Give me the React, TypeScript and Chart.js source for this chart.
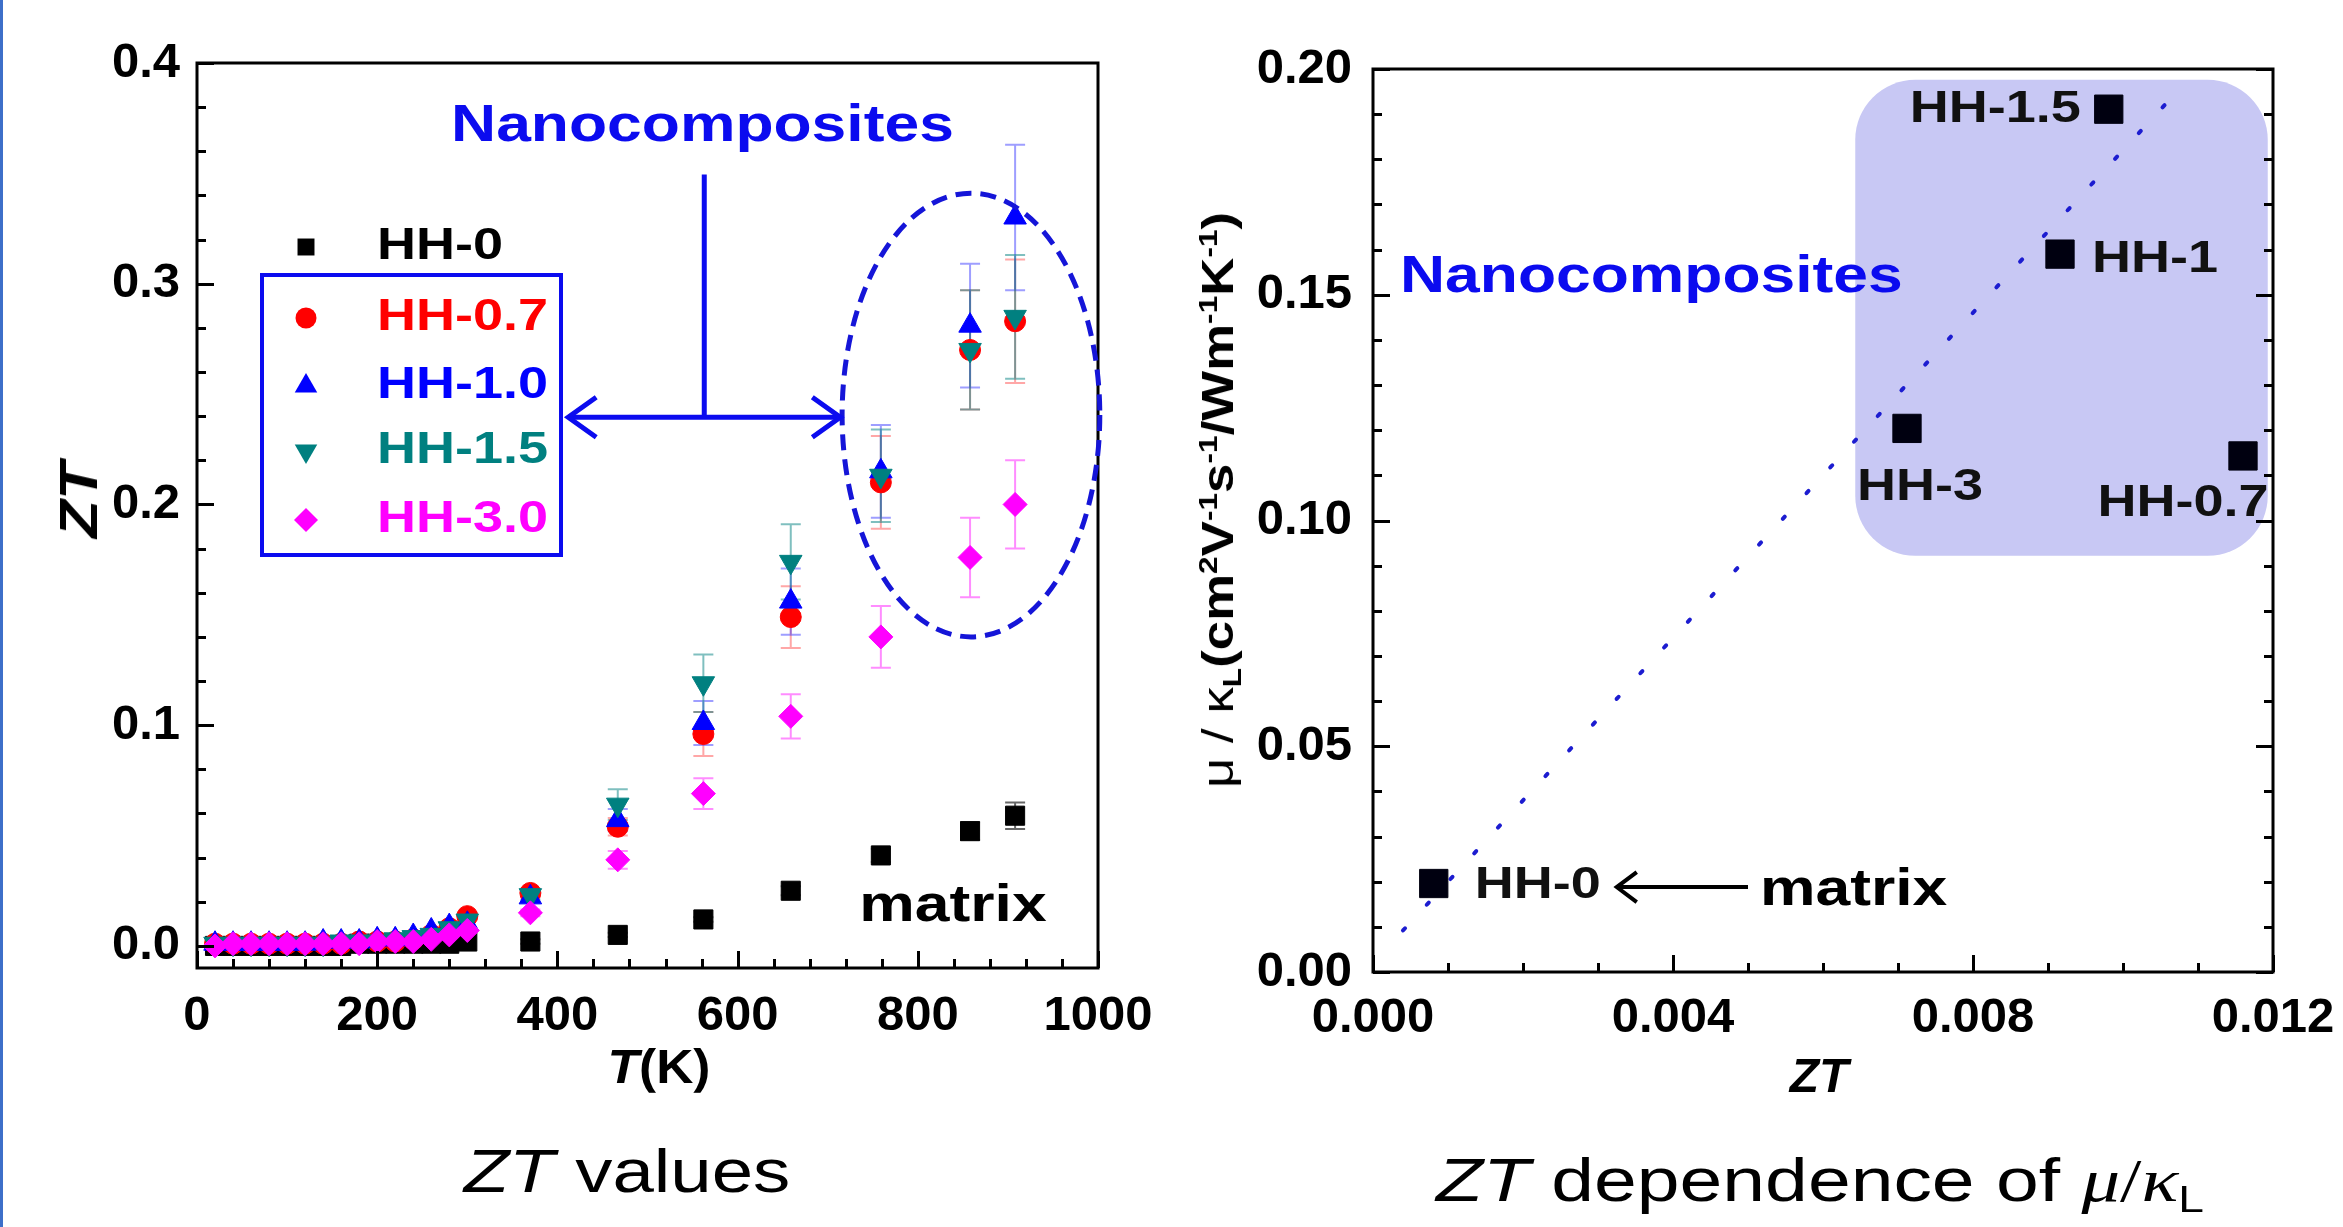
import React, { useEffect, useRef } from 'react';
import { Chart, registerables } from 'chart.js';

Chart.register(...registerables);

// ---------------- Left chart data: ZT vs T ----------------
const T_LOW = [20, 40, 60, 80, 100, 120, 140, 160, 180, 200, 220, 240, 260, 280, 300];
const T_HIGH = [370, 467, 562, 659, 759, 858, 908];

const HH0_LOW = [0.000, 0.000, 0.000, 0.000, 0.000, 0.000, 0.000, 0.000, 0.001, 0.001, 0.001, 0.001, 0.001, 0.001, 0.002];
const HH07_LOW = [0.001, 0.001, 0.001, 0.001, 0.001, 0.001, 0.001, 0.001, 0.002, 0.002, 0.002, 0.003, 0.005, 0.008, 0.0135];
const HH10_LOW = [0.001, 0.001, 0.001, 0.001, 0.001, 0.001, 0.002, 0.002, 0.002, 0.003, 0.003, 0.0045, 0.007, 0.009, 0.010];
const HH15_LOW = [0.001, 0.001, 0.001, 0.001, 0.001, 0.001, 0.001, 0.002, 0.002, 0.002, 0.003, 0.004, 0.005, 0.008, 0.0115];
const HH30_LOW = [0.000, 0.001, 0.001, 0.001, 0.001, 0.001, 0.001, 0.001, 0.001, 0.002, 0.002, 0.002, 0.003, 0.005, 0.007];

const HH0_HIGH = [0.002, 0.005, 0.012, 0.025, 0.041, 0.052, 0.059];
const HH07_HIGH = [0.024, 0.054, 0.096, 0.149, 0.210, 0.270, 0.283];
const HH10_HIGH = [0.022, 0.057, 0.101, 0.156, 0.215, 0.281, 0.330];
const HH15_HIGH = [0.023, 0.064, 0.119, 0.174, 0.213, 0.270, 0.285];
const HH30_HIGH = [0.015, 0.039, 0.069, 0.104, 0.140, 0.176, 0.200];

const HH0_ERR = [0.001, 0.001, 0.001, 0.002, 0.003, 0.004, 0.006];
const HH07_ERR = [0.002, 0.004, 0.010, 0.014, 0.021, 0.027, 0.028];
const HH10_ERR = [0.002, 0.005, 0.010, 0.015, 0.021, 0.028, 0.033];
const HH15_ERR = [0.002, 0.007, 0.013, 0.017, 0.021, 0.027, 0.028];
const HH30_ERR = [0.0015, 0.004, 0.007, 0.010, 0.014, 0.018, 0.020];

const LEFT_NAMES = ['HH-0', 'HH-0.7', 'HH-1.0', 'HH-1.5', 'HH-3.0'];
const LEFT_X_TICKS = [0, 200, 400, 600, 800, 1000];
const LEFT_Y_TICKS = [0, 0.1, 0.2, 0.3, 0.4];

// ---------------- Right chart data: mu/kL vs ZT ----------------
const SAMPLE_LABELS = ['HH-0', 'HH-0.7', 'HH-1', 'HH-1.5', 'HH-3'];
const SAMPLE_ZT = [0.00081, 0.0116, 0.00916, 0.00981, 0.00712];
const SAMPLE_MU_KL = [0.0196, 0.1143, 0.159, 0.1911, 0.1204];
const FIT_ZT = [0.0004, 0.01056];
const FIT_MU_KL = [0.0092, 0.1921];
const RIGHT_X_TICKS = [0, 0.004, 0.008, 0.012];
const RIGHT_Y_TICKS = [0, 0.05, 0.1, 0.15, 0.2];

// ---------------- styles ----------------
const FONT = '"Liberation Sans", Arial, Helvetica, sans-serif';
const TICK_FONT = { family: FONT, size: 49, weight: 'bold' as const };
const SX = 1.2; // horizontal stretch of annotation text
const BLUE = '#0b0bef';

const LEFT_STYLE = [
  { color: '#000000', err: 'rgba(0,0,0,0.6)', style: 'rect', radius: 13.5, rotation: 0, order: 5 },
  { color: '#ff0000', err: 'rgba(255,60,60,0.45)', style: 'circle', radius: 10.5, rotation: 0, order: 4 },
  { color: '#0000ff', err: 'rgba(40,40,255,0.45)', style: 'triangle', radius: 13, rotation: 0, order: 3 },
  { color: '#008080', err: 'rgba(0,128,128,0.5)', style: 'triangle', radius: 13, rotation: 180, order: 2 },
  { color: '#ff00ff', err: 'rgba(255,0,255,0.45)', style: 'rectRot', radius: 12, rotation: 0, order: 1 },
];
const LEFT_LOW = [HH0_LOW, HH07_LOW, HH10_LOW, HH15_LOW, HH30_LOW];
const LEFT_HIGH = [HH0_HIGH, HH07_HIGH, HH10_HIGH, HH15_HIGH, HH30_HIGH];
const LEFT_ERR = [HH0_ERR, HH07_ERR, HH10_ERR, HH15_ERR, HH30_ERR];

function stretchText(ctx: CanvasRenderingContext2D, text: string, x: number, y: number, align: string, font: string, color: string, sx = SX) {
  ctx.save();
  ctx.font = font;
  ctx.fillStyle = color;
  ctx.textBaseline = 'middle';
  ctx.textAlign = 'left';
  const w = ctx.measureText(text).width * sx;
  const x0 = align === 'left' ? x : align === 'center' ? x - w / 2 : x - w;
  ctx.translate(x0, y);
  ctx.scale(sx, 1);
  ctx.fillText(text, 0, 0);
  ctx.restore();
}

function drawMarker(ctx: CanvasRenderingContext2D, style: string, rotation: number, x: number, y: number, r: number, color: string) {
  ctx.save();
  ctx.fillStyle = color;
  ctx.beginPath();
  if (style === 'rect') {
    const s = r * Math.SQRT1_2;
    ctx.rect(x - s, y - s, 2 * s, 2 * s);
  } else if (style === 'circle') {
    ctx.arc(x, y, r, 0, Math.PI * 2);
  } else if (style === 'triangle') {
    const dir = rotation === 180 ? -1 : 1;
    ctx.moveTo(x, y - dir * r);
    ctx.lineTo(x + r * 0.866, y + dir * r * 0.5);
    ctx.lineTo(x - r * 0.866, y + dir * r * 0.5);
    ctx.closePath();
  } else {
    ctx.moveTo(x, y - r);
    ctx.lineTo(x + r, y);
    ctx.lineTo(x, y + r);
    ctx.lineTo(x - r, y);
    ctx.closePath();
  }
  ctx.fill();
  ctx.restore();
}

function tickMarks(ctx: CanvasRenderingContext2D, scale: any, values: number[], len: number, side: string, a: any) {
  ctx.beginPath();
  values.forEach((v) => {
    const p = Math.round(scale.getPixelForValue(v)) + 0.5;
    if (side === 'bottom') { ctx.moveTo(p, a.bottom); ctx.lineTo(p, a.bottom - len); }
    if (side === 'left') { ctx.moveTo(a.left, p); ctx.lineTo(a.left + len, p); }
    if (side === 'right') { ctx.moveTo(a.right, p); ctx.lineTo(a.right - len, p); }
  });
  ctx.stroke();
}

function range(from: number, to: number, step: number, skipEvery: number) {
  const out: number[] = [];
  let i = 0;
  for (let v = from; v <= to + step / 10; v += step, i++) {
    if (i % skipEvery !== 0) out.push(+v.toFixed(6));
  }
  return out;
}

function chevron(ctx: CanvasRenderingContext2D, tipX: number, tipY: number, dir: number, len: number, half: number) {
  ctx.beginPath();
  ctx.moveTo(tipX + dir * len, tipY - half);
  ctx.lineTo(tipX, tipY);
  ctx.lineTo(tipX + dir * len, tipY + half);
  ctx.stroke();
}

function LeftChart() {
  const ref = useRef<HTMLCanvasElement>(null);
  useEffect(() => {
    const canvas = ref.current!;
    const decor = {
      id: 'leftDecor',
      beforeDatasetsDraw(chart: any) {
        const { ctx, scales: { x, y } } = chart;
        ctx.save();
        ctx.lineWidth = 2;
        LEFT_STYLE.forEach((st, k) => {
          ctx.strokeStyle = st.err;
          T_HIGH.forEach((t, i) => {
            const px = x.getPixelForValue(t);
            const y1 = y.getPixelForValue(LEFT_HIGH[k][i] + LEFT_ERR[k][i]);
            const y2 = y.getPixelForValue(LEFT_HIGH[k][i] - LEFT_ERR[k][i]);
            ctx.beginPath();
            ctx.moveTo(px, y1); ctx.lineTo(px, y2);
            ctx.moveTo(px - 10, y1); ctx.lineTo(px + 10, y1);
            ctx.moveTo(px - 10, y2); ctx.lineTo(px + 10, y2);
            ctx.stroke();
          });
        });
        ctx.restore();
      },
      afterDraw(chart: any) {
        const { ctx, chartArea: a, scales: { x, y } } = chart;
        ctx.save();
        // frame
        ctx.strokeStyle = '#000';
        ctx.lineWidth = 3;
        ctx.strokeRect(a.left, a.top, a.right - a.left, a.bottom - a.top);
        // ticks
        ctx.lineWidth = 3;
        tickMarks(ctx, x, LEFT_X_TICKS, 17, 'bottom', a);
        tickMarks(ctx, x, range(0, 1000, 40, 5), 9, 'bottom', a);
        tickMarks(ctx, y, LEFT_Y_TICKS, 17, 'left', a);
        tickMarks(ctx, y, range(0, 0.4, 0.02, 5), 9, 'left', a);

        // dashed ellipse around high-T nanocomposite data
        const cx = x.getPixelForValue(859);
        const cy = y.getPixelForValue(0.2405);
        const rx = x.getPixelForValue(859 + 143) - cx;
        const ry = cy - y.getPixelForValue(0.2405 + 0.1005);
        ctx.strokeStyle = '#1515d8';
        ctx.lineWidth = 5;
        ctx.setLineDash([16, 9]);
        ctx.beginPath();
        ctx.ellipse(cx, cy, rx, ry, 0, 0, Math.PI * 2);
        ctx.stroke();
        ctx.setLineDash([]);

        // arrows
        ctx.strokeStyle = BLUE;
        ctx.lineWidth = 5;
        const vx = x.getPixelForValue(563);
        const vTop = y.getPixelForValue(0.3495);
        const hy = y.getPixelForValue(0.2395);
        const hx1 = x.getPixelForValue(412);
        const hx2 = x.getPixelForValue(714);
        ctx.beginPath();
        ctx.moveTo(vx, vTop); ctx.lineTo(vx, hy);
        ctx.moveTo(hx1, hy); ctx.lineTo(hx2, hy);
        ctx.stroke();
        chevron(ctx, hx1, hy, 1, 28, 20);
        chevron(ctx, hx2, hy, -1, 28, 20);

        // texts
        stretchText(ctx, 'Nanocomposites', x.getPixelForValue(561), y.getPixelForValue(0.371), 'center', `bold 52px ${FONT}`, BLUE);
        stretchText(ctx, 'matrix', x.getPixelForValue(839), y.getPixelForValue(0.0178), 'center', `bold 52px ${FONT}`, '#000');

        // legend
        const mx = 306;
        const tx = 377;
        const rows = [247, 318, 386, 451, 520];
        ctx.strokeStyle = BLUE;
        ctx.lineWidth = 4;
        ctx.strokeRect(262, 275, 299, 280);
        LEFT_NAMES.forEach((name, k) => {
          const st = LEFT_STYLE[k];
          drawMarker(ctx, st.style, st.rotation, mx, rows[k], k === 0 ? 12 : st.radius, st.color);
          stretchText(ctx, name, tx, rows[k], 'left', `bold 45px ${FONT}`, st.color);
        });
        ctx.restore();
      },
    };
    const chart = new Chart(canvas, {
      type: 'scatter',
      data: {
        datasets: LEFT_NAMES.map((name, k) => {
          const ys = [...LEFT_LOW[k], ...LEFT_HIGH[k]];
          return {
            label: name,
            data: [...T_LOW, ...T_HIGH].map((t, i) => ({ x: t, y: ys[i] })),
            pointStyle: LEFT_STYLE[k].style as any,
            pointRadius: LEFT_STYLE[k].radius,
            pointRotation: LEFT_STYLE[k].rotation,
            backgroundColor: LEFT_STYLE[k].color,
            borderColor: LEFT_STYLE[k].color,
            borderWidth: 1,
            order: LEFT_STYLE[k].order,
            showLine: false,
          };
        }),
      },
      options: {
        animation: false,
        responsive: false,
        devicePixelRatio: 1,
        events: [],
        layout: { padding: { left: 0, top: 63, right: 73, bottom: 0 } },
        plugins: { legend: { display: false }, tooltip: { enabled: false } },
        scales: {
          x: {
            type: 'linear', min: 0, max: 1000,
            afterBuildTicks: (s: any) => { s.ticks = LEFT_X_TICKS.map((v) => ({ value: v })); },
            afterFit: (s: any) => { s.height = 259; },
            ticks: { font: TICK_FONT, color: '#000', padding: 2, maxRotation: 0, autoSkip: false, callback: (v: any) => String(v) },
            grid: { display: false, drawTicks: true, tickLength: 17 },
            border: { display: false },
          },
          y: {
            type: 'linear', min: -0.01, max: 0.4,
            afterBuildTicks: (s: any) => { s.ticks = LEFT_Y_TICKS.map((v) => ({ value: v })); },
            afterFit: (s: any) => { s.width = 197; },
            ticks: { font: TICK_FONT, color: '#000', padding: 17, callback: (v: any) => Number(v).toFixed(1) },
            grid: { display: false, drawTicks: false },
            border: { display: false },
          },
        },
      },
      plugins: [decor],
    } as any);
    return () => chart.destroy();
  }, []);
  return <canvas ref={ref} width={1171} height={1227} style={{ position: 'absolute', left: 0, top: 0 }} />;
}

function RightChart() {
  const ref = useRef<HTMLCanvasElement>(null);
  useEffect(() => {
    const canvas = ref.current!;
    const labelLayout = [
      { align: 'left', dx: 41, dy: 2 },     // HH-0
      { align: 'center', dx: -60, dy: 48 }, // HH-0.7
      { align: 'left', dx: 32, dy: 5 },     // HH-1
      { align: 'right', dx: -28, dy: 0 },   // HH-1.5
      { align: 'center', dx: 13, dy: 59 },  // HH-3
    ];
    const decor = {
      id: 'rightDecor',
      beforeDatasetsDraw(chart: any) {
        const { ctx, scales: { x, y } } = chart;
        const x0 = x.getPixelForValue(0.00643);
        const x1 = x.getPixelForValue(0.01193);
        const y0 = y.getPixelForValue(0.1976);
        const y1 = y.getPixelForValue(0.0922);
        ctx.save();
        ctx.fillStyle = '#c8c8f4';
        ctx.beginPath();
        (ctx as any).roundRect(x0, y0, x1 - x0, y1 - y0, 60);
        ctx.fill();
        ctx.restore();
      },
      afterDraw(chart: any) {
        const { ctx, chartArea: a, scales: { x, y } } = chart;
        ctx.save();
        ctx.strokeStyle = '#000';
        ctx.lineWidth = 3;
        ctx.strokeRect(a.left, a.top, a.right - a.left, a.bottom - a.top);
        tickMarks(ctx, x, RIGHT_X_TICKS, 17, 'bottom', a);
        tickMarks(ctx, x, range(0, 0.012, 0.001, 4), 9, 'bottom', a);
        tickMarks(ctx, y, RIGHT_Y_TICKS, 17, 'left', a);
        tickMarks(ctx, y, range(0, 0.2, 0.01, 5), 9, 'left', a);
        tickMarks(ctx, y, RIGHT_Y_TICKS, 17, 'right', a);
        tickMarks(ctx, y, range(0, 0.2, 0.01, 5), 9, 'right', a);

        SAMPLE_LABELS.forEach((lab, i) => {
          const px = x.getPixelForValue(SAMPLE_ZT[i]);
          const py = y.getPixelForValue(SAMPLE_MU_KL[i]);
          const L = labelLayout[i];
          stretchText(ctx, lab, px + L.dx, py + L.dy, L.align, `bold 45px ${FONT}`, '#111');
        });

        stretchText(ctx, 'Nanocomposites', x.getPixelForValue(0.00036), y.getPixelForValue(0.1537), 'left', `bold 52px ${FONT}`, BLUE);
        stretchText(ctx, 'matrix', x.getPixelForValue(0.00516), y.getPixelForValue(0.0180), 'left', `bold 52px ${FONT}`, '#000');

        // arrow from "matrix" to HH-0
        const ay = y.getPixelForValue(0.0188);
        const ax0 = x.getPixelForValue(0.0050);
        const ax1 = x.getPixelForValue(0.00325);
        ctx.strokeStyle = '#000';
        ctx.lineWidth = 4;
        ctx.beginPath();
        ctx.moveTo(ax0, ay); ctx.lineTo(ax1, ay);
        ctx.stroke();
        chevron(ctx, ax1, ay, 1, 20, 15);
        ctx.restore();
      },
    };
    const chart = new Chart(canvas, {
      type: 'scatter',
      data: {
        datasets: [
          {
            label: 'samples',
            data: SAMPLE_ZT.map((v, i) => ({ x: v, y: SAMPLE_MU_KL[i] })),
            pointStyle: 'rect',
            pointRadius: 20,
            backgroundColor: '#000010',
            borderColor: '#000010',
            borderWidth: 1,
            showLine: false,
            order: 1,
          },
          {
            type: 'line',
            label: 'fit',
            data: FIT_ZT.map((v, i) => ({ x: v, y: FIT_MU_KL[i] })),
            borderColor: '#1c1cd0',
            borderWidth: 4,
            borderDash: [3, 32],
            borderCapStyle: 'round',
            pointRadius: 0,
            fill: false,
            order: 2,
          },
        ],
      },
      options: {
        animation: false,
        responsive: false,
        devicePixelRatio: 1,
        events: [],
        layout: { padding: { left: 0, top: 69, right: 70, bottom: 0 } },
        plugins: { legend: { display: false }, tooltip: { enabled: false } },
        scales: {
          x: {
            type: 'linear', min: 0, max: 0.012,
            afterBuildTicks: (s: any) => { s.ticks = RIGHT_X_TICKS.map((v) => ({ value: v })); },
            afterFit: (s: any) => { s.height = 255; },
            ticks: { font: TICK_FONT, color: '#000', padding: 2, maxRotation: 0, autoSkip: false, callback: (v: any) => Number(v).toFixed(3) },
            grid: { display: false, drawTicks: true, tickLength: 15 },
            border: { display: false },
          },
          y: {
            type: 'linear', min: 0, max: 0.2,
            afterBuildTicks: (s: any) => { s.ticks = RIGHT_Y_TICKS.map((v) => ({ value: v })); },
            afterFit: (s: any) => { s.width = 202; },
            ticks: { font: TICK_FONT, color: '#000', padding: 21, callback: (v: any) => Number(v).toFixed(2) },
            grid: { display: false, drawTicks: false },
            border: { display: false },
          },
        },
      },
      plugins: [decor],
    } as any);
    return () => chart.destroy();
  }, []);
  return <canvas ref={ref} width={1172} height={1227} style={{ position: 'absolute', left: 1171, top: 0 }} />;
}

const centered = (x: number, y: number, extra: string): React.CSSProperties => ({
  position: 'absolute',
  left: x,
  top: y,
  whiteSpace: 'nowrap',
  lineHeight: 1,
  transform: `translate(-50%, -50%) ${extra}`,
});

const sup: React.CSSProperties = { fontSize: '0.6em', position: 'relative', top: '-0.6em' };
const sub: React.CSSProperties = { fontSize: '0.6em', position: 'relative', top: '0.3em' };
const serifItalic: React.CSSProperties = { fontFamily: '"Liberation Serif", "Times New Roman", serif', fontStyle: 'italic' };

export default function App() {
  return (
    <div style={{ position: 'fixed', left: 0, top: 0, width: 2343, height: 1227, background: '#fff', overflow: 'hidden', fontFamily: FONT }}>
      <div style={{ position: 'absolute', left: 0, top: 0, width: 3, height: 1227, background: '#3d6fc9' }} />
      <LeftChart />
      <RightChart />
      {/* axis titles */}
      <div style={{ ...centered(78, 500, 'rotate(-90deg) scaleX(1.15)'), fontSize: 54, fontWeight: 'bold', fontStyle: 'italic' }}>ZT</div>
      <div style={{ ...centered(659, 1066, 'scaleX(1.05)'), fontSize: 49, fontWeight: 'bold' }}>
        <i>T</i>(K)
      </div>
      <div style={{ ...centered(1819, 1076, ''), fontSize: 48, fontWeight: 'bold', fontStyle: 'italic' }}>ZT</div>
      <div style={{ ...centered(1218, 500, 'rotate(-90deg) scaleX(1.2)'), fontSize: 44, fontWeight: 'bold' }}>
        <span style={{ fontWeight: 'normal' }}>μ / κ</span>
        <span style={sub}>L</span>(cm<span style={sup}>2</span>V<span style={sup}>-1</span>s<span style={sup}>-1</span>/Wm<span style={sup}>-1</span>K<span style={sup}>-1</span>)
      </div>
      {/* captions */}
      <div style={{ ...centered(627, 1171, 'scaleX(1.2)'), fontSize: 62 }}>
        <i>ZT</i> values
      </div>
      <div style={{ ...centered(1820, 1180, 'scaleX(1.24)'), fontSize: 62 }}>
        <i>ZT</i> dependence of&nbsp;<span style={serifItalic}>μ</span>
        <span style={{ fontFamily: '"Liberation Serif", serif' }}>/</span>
        <span style={serifItalic}>κ</span>
        <span style={sub}>L</span>
      </div>
    </div>
  );
}
